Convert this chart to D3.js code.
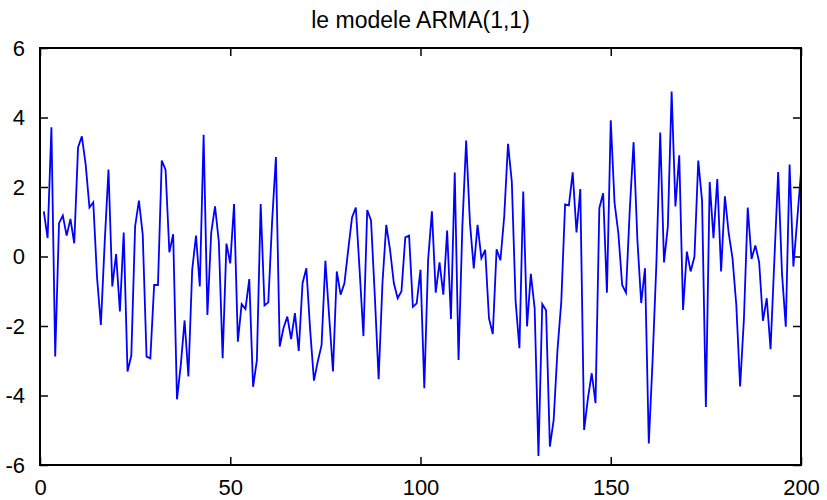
<!DOCTYPE html>
<html>
<head>
<meta charset="utf-8">
<script src="https://cdn.jsdelivr.net/npm/d3@7"></script>
<style>
  body { margin: 0; background: #fff; }
  text { font-family: "Liberation Sans", Arial, sans-serif; }
</style>
</head>
<body>
<script>
var title = "le modele ARMA(1,1)";
var xTicks = [0, 50, 100, 150, 200];
var yTicks = [-6, -4, -2, 0, 2, 4, 6];
var values = [
  1.30, 0.53, 3.72, -2.88, 0.96, 1.18, 0.60, 1.08, 0.38, 3.14,
  3.46, 2.65, 1.41, 1.56, -0.62, -1.97, 0.40, 2.50, -0.86, 0.07,
  -1.58, 0.69, -3.31, -2.85, 0.87, 1.61, 0.63, -2.88, -2.93, -0.82,
  -0.82, 2.76, 2.50, 0.12, 0.64, -4.11, -3.12, -1.84, -3.45, -0.38,
  0.60, -0.86, 3.50, -1.68, 0.69, 1.44, 0.43, -2.93, 0.37, -0.20,
  1.51, -2.45, -1.37, -1.51, -0.65, -3.75, -2.98, 1.51, -1.41, -1.32,
  1.00, 2.86, -2.59, -2.06, -1.73, -2.38, -1.63, -2.72, -0.77, -0.34,
  -2.11, -3.57, -3.02, -2.55, -0.12, -1.73, -3.31, -0.43, -1.10, -0.77,
  0.19, 1.12, 1.41, -0.40, -2.29, 1.34, 1.04, -1.15, -3.53, -0.77,
  0.91, 0.19, -0.77, -1.20, -1.00, 0.55, 0.60, -1.45, -1.35, -0.38,
  -3.79, -0.10, 1.30, -1.04, -0.17, -1.10, 0.75, -1.80, 2.42, -2.98,
  0.86, 3.34, 0.96, -0.34, 0.91, -0.05, 0.19, -1.78, -2.23, 0.21,
  -0.11, 1.15, 3.24, 2.15, -1.30, -2.64, 1.87, -2.01, -0.50, -1.49,
  -5.74, -1.37, -1.55, -5.47, -4.70, -2.69, -1.30, 1.50, 1.47, 2.42,
  0.69, 1.94, -4.99, -4.08, -3.36, -4.22, 1.39, 1.82, -1.04, 3.92,
  1.54, 0.67, -0.82, -1.04, 1.35, 3.29, 0.48, -1.34, -0.34, -5.38,
  -2.98, -0.19, 3.57, -0.17, 0.86, 4.75, 1.44, 2.91, -1.54, 0.14,
  -0.43, 0.00, 2.76, 1.60, -4.33, 2.14, 0.53, 2.23, -0.43, 1.73,
  0.67, -0.05, -1.40, -3.74, -1.80, 1.41, -0.07, 0.32, -0.16, -1.85,
  -1.20, -2.67, -0.10, 2.43, -0.48, -2.02, 2.65, -0.29, 1.05, 2.43
];

var svgWidth = 827;
var svgHeight = 500;
var margin = {top: 48, right: 26, bottom: 35, left: 40};
var w = svgWidth - margin.left - margin.right;
var h = svgHeight - margin.top - margin.bottom;

var svg = d3.select("body").append("svg")
  .attr("width", svgWidth).attr("height", svgHeight);

var g = svg.append("g")
  .attr("transform", "translate(" + margin.left + "," + margin.top + ")");

var x = d3.scaleLinear().domain([0, 200]).range([0, w]);
var y = d3.scaleLinear().domain([-6, 6]).range([h, 0]);

// axes, ticks pointing inward like matlab
var axBottom = g.append("g").attr("transform", "translate(0," + h + ")")
  .call(d3.axisBottom(x).tickValues(xTicks).tickSize(-8).tickPadding(14));
var axTop = g.append("g")
  .call(d3.axisTop(x).tickValues(xTicks).tickSize(-8).tickFormat(""));
var axLeft = g.append("g")
  .call(d3.axisLeft(y).tickValues(yTicks).tickSize(-8).tickPadding(15));
var axRight = g.append("g").attr("transform", "translate(" + w + ",0)")
  .call(d3.axisRight(y).tickValues(yTicks).tickSize(-8).tickFormat(""));

[axBottom, axTop, axLeft, axRight].forEach(function(a){
  a.select(".domain").remove();
  a.selectAll("line").attr("stroke", "#000").attr("stroke-width", 1.5);
  a.selectAll("text").attr("font-size", "22px").attr("fill", "#000")
    .attr("font-family", "Liberation Sans, Arial, sans-serif");
});
axLeft.selectAll("text").text(function(d){ return d < 0 ? "-" + Math.abs(d) : d; });

var line = d3.line()
  .x(function(d, i){ return x(i + 1); })
  .y(function(d){ return y(d); });

g.append("path").datum(values)
  .attr("d", line)
  .attr("fill", "none")
  .attr("stroke", "#0000ff")
  .attr("stroke-width", 1.8);

g.append("rect")
  .attr("x", 0).attr("y", 0).attr("width", w).attr("height", h)
  .attr("fill", "none").attr("stroke", "#000").attr("stroke-width", 2);

svg.append("text")
  .attr("x", margin.left + w / 2).attr("y", 28)
  .attr("text-anchor", "middle")
  .attr("font-size", "23px")
  .text(title);
</script>
</body>
</html>
